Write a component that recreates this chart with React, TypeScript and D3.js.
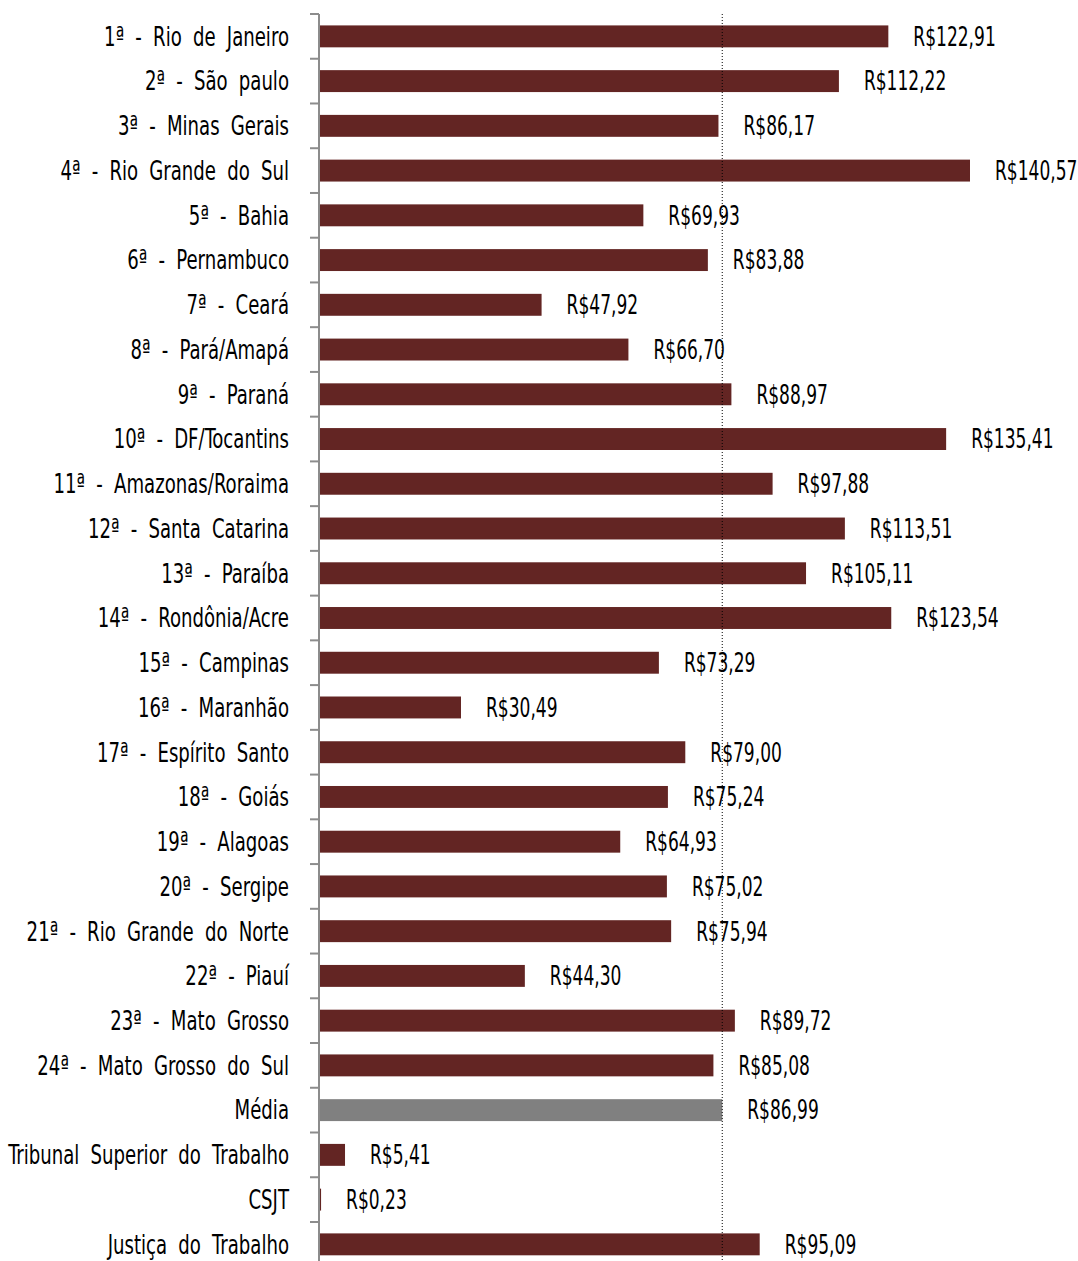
import React from "react";
import * as d3 from "d3";

const categories = [
  "1ª - Rio de Janeiro",
  "2ª - São paulo",
  "3ª - Minas Gerais",
  "4ª - Rio Grande do Sul",
  "5ª - Bahia",
  "6ª - Pernambuco",
  "7ª - Ceará",
  "8ª - Pará/Amapá",
  "9ª - Paraná",
  "10ª - DF/Tocantins",
  "11ª - Amazonas/Roraima",
  "12ª - Santa Catarina",
  "13ª - Paraíba",
  "14ª - Rondônia/Acre",
  "15ª - Campinas",
  "16ª - Maranhão",
  "17ª - Espírito Santo",
  "18ª - Goiás",
  "19ª - Alagoas",
  "20ª - Sergipe",
  "21ª - Rio Grande do Norte",
  "22ª - Piauí",
  "23ª - Mato Grosso",
  "24ª - Mato Grosso do Sul",
  "Média",
  "Tribunal Superior do Trabalho",
  "CSJT",
  "Justiça do Trabalho",
];

const values = [
  122.91, 112.22, 86.17, 140.57, 69.93, 83.88, 47.92, 66.7, 88.97, 135.41,
  97.88, 113.51, 105.11, 123.54, 73.29, 30.49, 79.0, 75.24, 64.93, 75.02,
  75.94, 44.3, 89.72, 85.08, 86.99, 5.41, 0.23, 95.09,
];

const average = 86.99;

const W = 1078;
const H = 1261;
const x0 = 320;
const top = 14;
const step = 44.74;

const fmt = (v: number) => "R$" + v.toFixed(2).replace(".", ",");

export default function App() {
  const x = d3.scaleLinear().domain([0, 140.57]).range([x0, 970]);
  const y = d3
    .scaleBand<string>()
    .domain(categories)
    .range([top, top + step * categories.length])
    .paddingInner(0.51)
    .paddingOuter(0.255);

  const font = "'DejaVu Sans Condensed', 'Liberation Sans Narrow', sans-serif";
  // squeeze text horizontally around an anchor point
  const squeeze = (px: number, s: number) =>
    `translate(${px},0) scale(${s},1) translate(${-px},0)`;

  return (
    <svg
      width={W}
      height={H}
      style={{ position: "absolute", left: 0, top: 0, background: "#fff" }}
    >
      {categories.map((c, i) => {
        const yy = y(c)!;
        const v = values[i];
        const cy = yy + y.bandwidth() / 2;
        const lx = x(v) + 25;
        return (
          <g key={c}>
            <rect
              x={x0}
              y={yy}
              width={x(v) - x0}
              height={y.bandwidth()}
              fill={c === "Média" ? "#808080" : "#632523"}
            />
            <text
              x={289}
              y={cy}
              dy="0.36em"
              textAnchor="end"
              fontFamily={font}
              fontSize={26}
              wordSpacing={7}
              fill="#000"
              transform={squeeze(289, 0.775)}
            >
              {c}
            </text>
            <text
              x={lx}
              y={cy}
              dy="0.36em"
              fontFamily={font}
              fontSize={26}
              fill="#000"
              transform={squeeze(lx, 0.73)}
            >
              {fmt(v)}
            </text>
          </g>
        );
      })}
      <line
        x1={x(average)}
        x2={x(average)}
        y1={top}
        y2={H}
        stroke="#000"
        strokeWidth={1}
        strokeDasharray="1,2"
      />
      <line x1={319} x2={319} y1={top} y2={H} stroke="#8c8c8c" strokeWidth={2} />
      {d3.range(categories.length + 1).map((i) => (
        <line
          key={i}
          x1={310}
          x2={319}
          y1={top + i * step}
          y2={top + i * step}
          stroke="#8c8c8c"
          strokeWidth={2}
        />
      ))}
    </svg>
  );
}
